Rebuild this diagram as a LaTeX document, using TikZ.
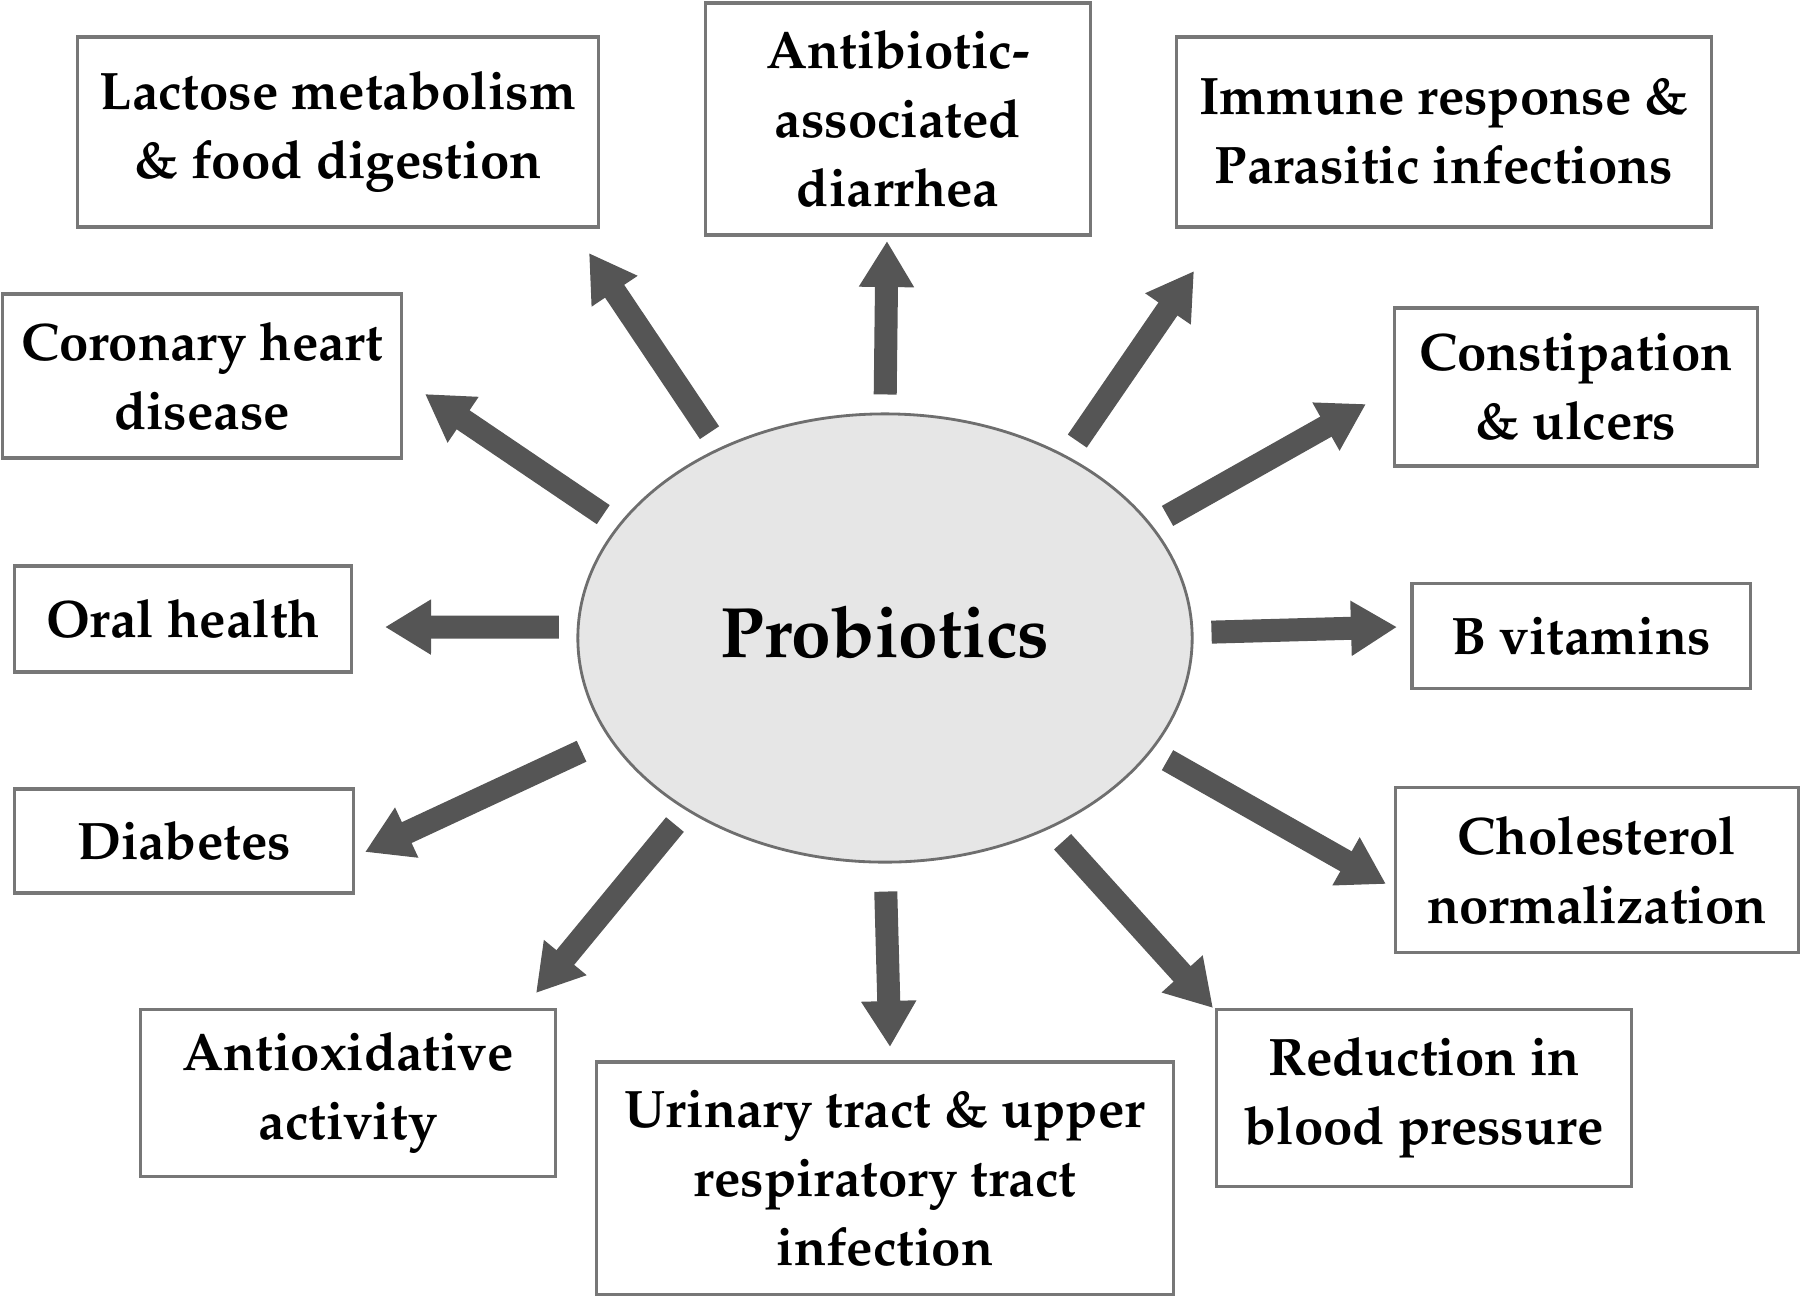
\documentclass[tikz,border=0pt]{standalone}
\usepackage[T1]{fontenc}
\usepackage{mathpazo}
\usetikzlibrary{arrows.meta,shapes.geometric}

\definecolor{boxline}{HTML}{777777}
\definecolor{arrowfill}{HTML}{555555}
\definecolor{ovalfill}{HTML}{E6E6E6}
\definecolor{ovalline}{HTML}{6E6E6E}

\tikzset{
  effect/.style={draw=boxline, line width=0.9pt, rectangle, align=center, inner sep=0pt,
    font=\fontsize{15}{19.6}\selectfont\bfseries},
  bigarrow/.style={draw=arrowfill, line width=0.23cm,
    -{Triangle[length=0.46cm,width=0.52cm]}, shorten <=0.18cm},
}

\begin{document}
\begin{tikzpicture}[x=0.01cm,y=-0.01cm]
\useasboundingbox (0,0) rectangle (1800,1296);

% centre
\node[ellipse, draw=ovalline, line width=0.8pt, fill=ovalfill, minimum width=6.14cm, minimum height=4.48cm] (prob) at (885,638) {};
\node[font=\fontsize{20.3}{24}\selectfont\bfseries] (probtext) at (885,632) {Probiotics};

% effects
\node[effect, minimum width=5.2cm, minimum height=1.9cm] (lactose) at (338,132) {Lactose metabolism\\\& food digestion};
\node[effect, minimum width=3.85cm, minimum height=2.32cm] (antib) at (898,119) {Antibiotic-\\associated\\diarrhea};
\node[effect, minimum width=5.34cm, minimum height=1.9cm] (immune) at (1444,132) {Immune response \&\\Parasitic infections};
\node[effect, minimum width=3.99cm, minimum height=1.64cm] (coronary) at (202,376) {Coronary heart\\disease};
\node[effect, minimum width=3.62cm, minimum height=1.58cm] (constip) at (1576,387) {Constipation\\\& ulcers};
\node[effect, minimum width=3.37cm, minimum height=1.06cm] (oral) at (183,619) {Oral health};
\node[effect, minimum width=3.38cm, minimum height=1.05cm] (bvit) at (1581,636) {B vitamins};
\node[effect, minimum width=3.39cm, minimum height=1.04cm] (diabetes) at (184,841) {Diabetes};
\node[effect, minimum width=4.02cm, minimum height=1.65cm] (cholest) at (1597,870) {Cholesterol\\normalization};
\node[effect, minimum width=4.14cm, minimum height=1.67cm] (antiox) at (348,1093) {Antioxidative\\activity};
\node[effect, minimum width=5.76cm, minimum height=2.32cm] (urinary) at (885,1178) {Urinary tract \& upper\\respiratory tract\\infection};
\node[effect, minimum width=4.14cm, minimum height=1.77cm] (bloodp) at (1424,1098) {Reduction in\\blood pressure};

% arrow tips
\coordinate (lactoseTip) at (589,253);
\coordinate (antibTip) at (887,241);
\coordinate (immuneTip) at (1194,271);
\coordinate (coronaryTip) at (425,394);
\coordinate (constipTip) at (1366,404);
\coordinate (oralTip) at (385,627);
\coordinate (bvitTip) at (1397,627);
\coordinate (diabetesTip) at (365,852);
\coordinate (cholestTip) at (1386,884);
\coordinate (antioxTip) at (536,993);
\coordinate (urinaryTip) at (890,1047);
\coordinate (bloodpTip) at (1213,1008);

% arrows
\draw[bigarrow] (prob.131.8) -- (lactoseTip);
\draw[bigarrow] (prob.90) -- (antibTip);
\draw[bigarrow] (prob.45.1) -- (immuneTip);
\draw[bigarrow] (prob.157.7) -- (coronaryTip);
\draw[bigarrow] (prob.23.3) -- (constipTip);
\draw[bigarrow] (prob.178.5) -- (oralTip);
\draw[bigarrow] (prob.1.6) -- (bvitTip);
\draw[bigarrow, shorten <=0.3cm] (prob.200.1) -- (diabetesTip);
\draw[bigarrow] (prob.337.5) -- (cholestTip);
\draw[bigarrow] (prob.221.8) -- (antioxTip);
\draw[bigarrow, shorten <=0.28cm] (prob.270) -- (urinaryTip);
\draw[bigarrow] (prob.311.8) -- (bloodpTip);
\end{tikzpicture}
\end{document}
